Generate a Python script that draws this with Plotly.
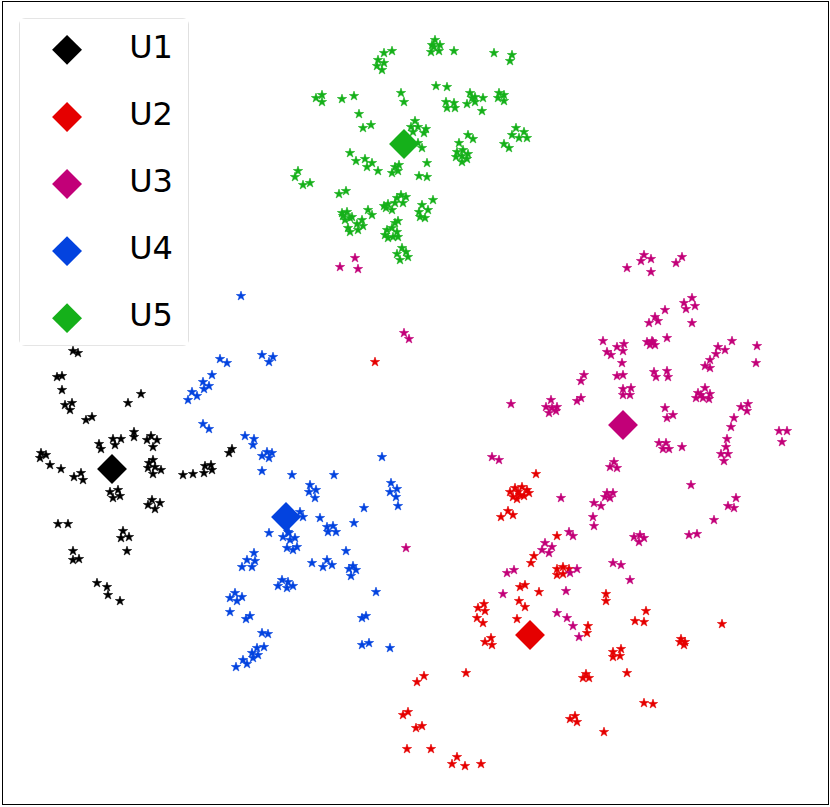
import plotly.graph_objects as go

names = ["U1", "U2", "U3", "U4", "U5"]
colors = ["#000000", "#e50000", "#c20078", "#0343df", "#15b01a"]

u1 = [(73,351),(78,353),(57,377),(62,376),(62,390),(65,405),(72,403),(70,410),(86,420),(92,417),
      (128,403),(141,394),(99,444),(101,449),(113,439),(115,445),(121,439),(134,432),(134,437),
      (147,440),(151,436),(157,440),(153,447),(41,453),(46,455),(40,458),(50,465),(61,469),
      (74,477),(81,473),(83,480),(149,463),(153,460),(148,468),(155,467),(161,470),(153,474),
      (183,475),(193,474),(204,473),(205,466),(211,465),(212,470),(229,453),(232,449),
      (110,492),(118,490),(120,496),(113,498),(148,505),(152,500),(160,503),(155,509),
      (58,524),(68,524),(123,531),(121,538),(129,537),(127,551),(73,551),(73,560),(79,559),
      (97,583),(107,587),(108,595),(120,601)]

u2 = [(375,362),(536,474),(510,492),(515,488),(522,487),(527,490),(529,493),(520,495),(513,497),
      (517,499),(524,496),(518,492),(508,511),(513,515),(501,517),(557,536),(534,556),(531,563),
      (557,569),(563,567),(569,569),(557,575),(563,574),(520,587),(525,585),(539,592),(519,601),
      (525,607),(606,594),(606,601),(517,619),(646,611),(635,621),(644,622),(588,626),(587,633),
      (722,624),(478,608),(484,604),(485,611),(477,618),(483,623),(491,638),(485,642),(492,645),
      (681,639),(685,642),(684,645),(680,642),(613,652),(621,649),(613,657),(620,656),(627,673),
      (586,674),(583,678),(589,678),(466,673),(417,682),(424,676),(403,715),(408,712),(416,728),
      (422,726),(407,749),(431,749),(457,757),(452,764),(465,766),(481,764),(570,719),(575,716),
      (577,722),(644,703),(653,704),(604,732)]

u3 = [(355,258),(340,267),(358,269),(404,333),(409,339),(406,548),
      (644,255),(641,261),(651,259),(651,272),(627,268),(682,257),(676,263),(684,303),(692,298),
      (695,306),(686,309),(692,323),(665,310),(655,317),(658,321),(649,323),(667,338),(647,342),
      (652,341),(655,345),(650,345),(653,342),(603,341),(617,347),(624,344),(623,351),(607,352),
      (611,355),(622,363),(732,341),(718,347),(725,350),(716,354),(757,346),(710,360),(705,366),
      (710,368),(756,363),(584,375),(581,381),(617,376),(623,375),(654,372),(667,371),(656,377),
      (668,377),(623,389),(631,388),(623,395),(630,395),(511,404),(551,400),(546,407),(557,407),
      (549,413),(556,411),(552,408),(577,401),(581,398),(705,388),(698,393),(710,394),(696,398),
      (703,398),(709,399),(701,395),(665,408),(667,418),(673,415),(741,407),(748,404),(747,411),
      (734,418),(731,427),(779,431),(787,431),(782,442),(727,439),
      (659,443),(666,443),(663,449),(669,449),(682,447),(726,447),(721,454),(728,454),(724,461),
      (492,457),(499,460),(614,462),(610,467),(617,468),(691,485),(607,493),(613,493),(605,497),
      (610,498),(561,498),(594,503),(601,506),(736,498),(728,506),(734,508),(593,517),(594,526),
      (714,520),(689,535),(697,534),(634,537),(640,535),(644,538),(639,542),(569,532),(573,536),
      (545,543),(552,547),(542,550),(549,553),(613,563),(621,565),(630,580),(507,573),(514,570),
      (577,569),(570,573),(503,594),(566,591),(557,613),(567,618),(573,626),(579,637)]

u4 = [(241,296),(220,359),(227,363),(262,355),(273,357),(269,362),(212,375),(203,382),(209,386),
      (204,389),(192,392),(197,396),(188,400),(203,424),(209,429),(245,436),(254,439),(253,445),
      (262,456),(267,452),(272,453),(269,458),(262,471),(292,475),(334,475),(382,457),(310,485),
      (309,492),(316,490),(315,498),(391,483),(390,492),(397,489),(396,497),(398,506),(364,508),
      (300,512),(303,517),(320,518),(354,523),(327,527),(333,526),(328,532),(336,532),(269,533),
      (283,537),(289,533),(295,538),(290,540),(287,548),(293,550),(297,547),(288,532),(254,553),
      (247,560),(255,561),(242,567),(252,567),(346,551),(312,563),(327,560),(323,567),(332,565),
      (353,566),(349,569),(356,570),(351,576),(282,580),(288,582),(278,586),(287,588),(293,586),
      (235,593),(230,598),(237,601),(242,597),(230,612),(246,619),(250,616),(376,592),(362,618),
      (366,616),(262,633),(268,634),(257,648),(264,647),(252,653),(258,655),(253,658),(243,660),
      (247,664),(236,667),(362,645),(369,643),(390,648)]

u5 = [(432,45),(435,40),(440,45),(431,52),(439,51),(434,47),(454,51),(494,53),(512,55),(510,61),
      (384,53),(392,51),(378,60),(384,63),(377,66),(382,70),(436,86),(447,87),(316,98),(322,95),
      (322,102),(342,99),(354,96),(401,93),(404,102),(446,102),(454,103),(447,108),(455,108),
      (470,93),(475,97),(467,104),(475,102),(483,98),(472,98),(482,111),(499,93),(504,95),(498,98),
      (504,101),(359,114),(363,128),(371,125),(415,121),(411,127),(418,127),(413,132),(426,129),
      (424,133),(422,148),(418,143),(516,128),(524,132),(512,135),(519,138),(527,138),(504,144),
      (509,148),(468,135),(473,139),(459,143),(457,152),(463,150),(468,154),(462,156),(456,157),
      (467,159),(462,162),(350,153),(356,161),(365,159),(372,163),(367,167),(378,171),(392,173),
      (395,167),(399,165),(398,171),(427,163),(419,176),(427,177),(298,171),(295,177),(303,185),
      (310,183),(339,194),(346,191),(433,200),(397,198),(401,195),(406,197),(403,203),(395,203),
      (384,206),(388,204),(392,210),(386,208),(422,205),(419,212),(428,210),(420,217),(425,218),
      (368,210),(372,215),(342,213),(347,212),(352,217),(345,220),(350,218),(343,216),(362,220),
      (357,224),(363,226),(358,230),(348,228),(350,232),(387,230),(392,228),(397,232),(385,235),
      (393,237),(388,238),(398,237),(395,223),(398,221),(402,248),(406,252),(397,254),(408,257),
      (400,260)]

centroid_x = [112, 530, 623, 286, 404]
centroid_y = [469, 635, 425, 517, 144]

clusters = [u1, u2, u3, u4, u5]

fig = go.Figure()
for pts, c, n in zip(clusters, colors, names):
    fig.add_trace(go.Scatter(
        x=[p[0] for p in pts], y=[p[1] for p in pts], mode="markers",
        marker=dict(symbol="star", size=7, color=c, line=dict(width=0.6, color=c)),
        showlegend=False, hoverinfo="skip"))

fig.add_trace(go.Scatter(
    x=centroid_x, y=centroid_y, mode="markers",
    marker=dict(symbol="diamond", size=23, color=colors, line=dict(width=0)),
    showlegend=False))

# custom legend in its own small axes
idx = list(range(len(names)))
fig.add_trace(go.Scatter(
    x=[0.28] * len(names), y=idx, mode="markers", xaxis="x2", yaxis="y2",
    marker=dict(symbol="diamond", size=23, color=colors, line=dict(width=0)),
    showlegend=False, hoverinfo="skip"))
fig.add_trace(go.Scatter(
    x=[0.65] * len(names), y=idx, mode="text", text=names, xaxis="x2", yaxis="y2",
    textposition="middle right",
    textfont=dict(family="DejaVu Sans", size=32, color="#000000"),
    showlegend=False, hoverinfo="skip"))

W, H = 830, 807
ml, mr, mt, mb = 3, 2, 2, 3
pw, ph = W - ml - mr, H - mt - mb

def px_x(v):
    return (v - ml) / pw

def px_y(v):
    return 1 - (v - mt) / ph

fig.update_layout(
    width=W, height=H,
    margin=dict(l=ml, r=mr, t=mt, b=mb, pad=0),
    paper_bgcolor="white", plot_bgcolor="white",
    xaxis=dict(range=[ml, W - mr], showgrid=False, zeroline=False, showticklabels=False,
               ticks="", showline=True, mirror=True, linecolor="black", linewidth=1),
    yaxis=dict(range=[H - mb, mt], showgrid=False, zeroline=False, showticklabels=False,
               ticks="", showline=True, mirror=True, linecolor="black", linewidth=1),
    xaxis2=dict(domain=[px_x(20), px_x(188)], range=[0, 1], anchor="y2",
                showgrid=False, zeroline=False, showticklabels=False, showline=False, visible=False),
    yaxis2=dict(domain=[px_y(345), px_y(19)], range=[4.40, -0.46], anchor="x2",
                showgrid=False, zeroline=False, showticklabels=False, showline=False, visible=False),
    showlegend=False,
)

# rounded legend frame
r = 5
x0, x1, y0, y1 = 20, 188, 19, 345
path = (f"M {x0+r},{y0} L {x1-r},{y0} Q {x1},{y0} {x1},{y0+r} L {x1},{y1-r} Q {x1},{y1} {x1-r},{y1} "
        f"L {x0+r},{y1} Q {x0},{y1} {x0},{y1-r} L {x0},{y0+r} Q {x0},{y0} {x0+r},{y0} Z")
fig.add_shape(type="path", path=path, xref="x", yref="y",
              line=dict(color="#cccccc", width=1.2), fillcolor="rgba(255,255,255,0.8)", layer="below")

fig.write_html("out.html", config={"displayModeBar": False},
               post_script="document.body.style.margin='0px';document.body.style.padding='0px';")
